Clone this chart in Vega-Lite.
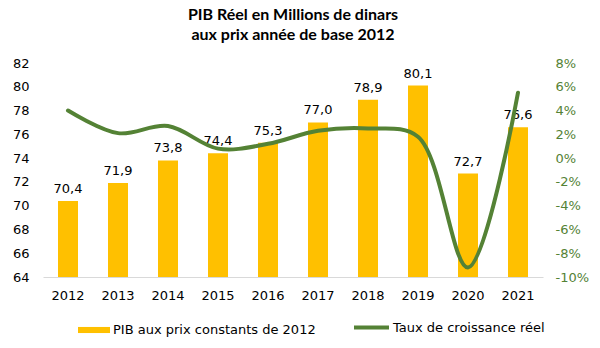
{
  "$schema": "https://vega.github.io/schema/vega-lite/v6.json",
  "width": 500,
  "height": 214,
  "autosize": {"type": "none"},
  "padding": {"left": 43, "top": 63, "right": 57, "bottom": 71},
  "background": "white",
  "title": {
    "text": ["PIB Réel en Millions de dinars", "aux prix année de base 2012"],
    "font": "Lato",
    "fontSize": 16,
    "fontWeight": "bold",
    "color": "#000000",
    "anchor": "middle",
    "lineHeight": 20,
    "offset": 14
  },
  "data": {
    "values": [
      {"annee": "2012", "pib": 70.4, "taux": 0.040},
      {"annee": "2013", "pib": 71.9, "taux": 0.021},
      {"annee": "2014", "pib": 73.8, "taux": 0.027},
      {"annee": "2015", "pib": 74.4, "taux": 0.008},
      {"annee": "2016", "pib": 75.3, "taux": 0.012},
      {"annee": "2017", "pib": 77.0, "taux": 0.023},
      {"annee": "2018", "pib": 78.9, "taux": 0.025},
      {"annee": "2019", "pib": 80.1, "taux": 0.018},
      {"annee": "2020", "pib": 72.7, "taux": -0.092},
      {"annee": "2021", "pib": 76.6, "taux": 0.055}
    ]
  },
  "encoding": {
    "x": {
      "field": "annee", "type": "nominal", "title": null,
      "axis": {"labelAngle": 0, "ticks": false, "domainColor": "#d9d9d9", "labelFontSize": 13, "labelPadding": 12, "labelColor": "#000000", "labelFont": "DejaVu Sans"}
    }
  },
  "layer": [
    {
      "encoding": {
        "y": {"field": "pib", "type": "quantitative", "title": null,
          "scale": {"domain": [64, 82], "zero": false, "nice": false},
          "axis": {"values": [64, 66, 68, 70, 72, 74, 76, 78, 80, 82], "labelOverlap": false, "grid": false, "domain": false, "ticks": false, "labelFontSize": 13, "labelPadding": 14, "labelColor": "#000000", "labelFont": "DejaVu Sans"}}
      },
      "layer": [
        {
          "mark": {"type": "bar", "size": 20, "clip": true},
          "encoding": {
            "fill": {"datum": "PIB aux prix constants de 2012", "type": "nominal",
              "scale": {"range": ["#FFC000"]},
              "legend": {"title": null, "orient": "none", "legendX": 35, "legendY": 251, "symbolType": "M-1,-0.19H1V0.19H-1Z", "symbolSize": 1024, "symbolStrokeWidth": 0, "labelOffset": 3, "labelFontSize": 13, "labelFont": "DejaVu Sans", "labelColor": "#000000", "labelLimit": 0}}
          }
        },
        {
          "mark": {"type": "text", "dy": -12, "fontSize": 13, "font": "DejaVu Sans", "color": "#000000"},
          "encoding": {
            "text": {"field": "pib", "type": "quantitative", "format": ".1f"}
          }
        }
      ]
    },
    {
      "mark": {"type": "line", "interpolate": "catmull-rom", "strokeWidth": 4, "strokeCap": "round"},
      "encoding": {
        "y": {"field": "taux", "type": "quantitative", "title": null,
          "scale": {"domain": [-0.1, 0.08], "nice": false},
          "axis": {"orient": "right", "format": ".0%", "values": [-0.1, -0.08, -0.06, -0.04, -0.02, 0, 0.02, 0.04, 0.06, 0.08], "labelOverlap": false, "grid": false, "domain": false, "ticks": false, "labelFontSize": 13, "labelPadding": 12, "labelColor": "#548235", "labelFont": "DejaVu Sans"}},
        "stroke": {"datum": "Taux de croissance réel", "type": "nominal",
          "scale": {"range": ["#548235"]},
          "legend": {"title": null, "orient": "none", "legendX": 309, "legendY": 245, "symbolType": "stroke", "symbolStrokeWidth": 4, "symbolSize": 1225, "labelOffset": 2, "labelFontSize": 13, "labelFont": "DejaVu Sans", "labelColor": "#000000", "labelLimit": 0}}
      }
    }
  ],
  "resolve": {"scale": {"y": "independent", "fill": "independent", "stroke": "independent"}},
  "config": {
    "view": {"stroke": null},
    "locale": {"number": {"decimal": ",", "thousands": " ", "grouping": [3], "currency": ["", " €"], "minus": "-"}}
  }
}
